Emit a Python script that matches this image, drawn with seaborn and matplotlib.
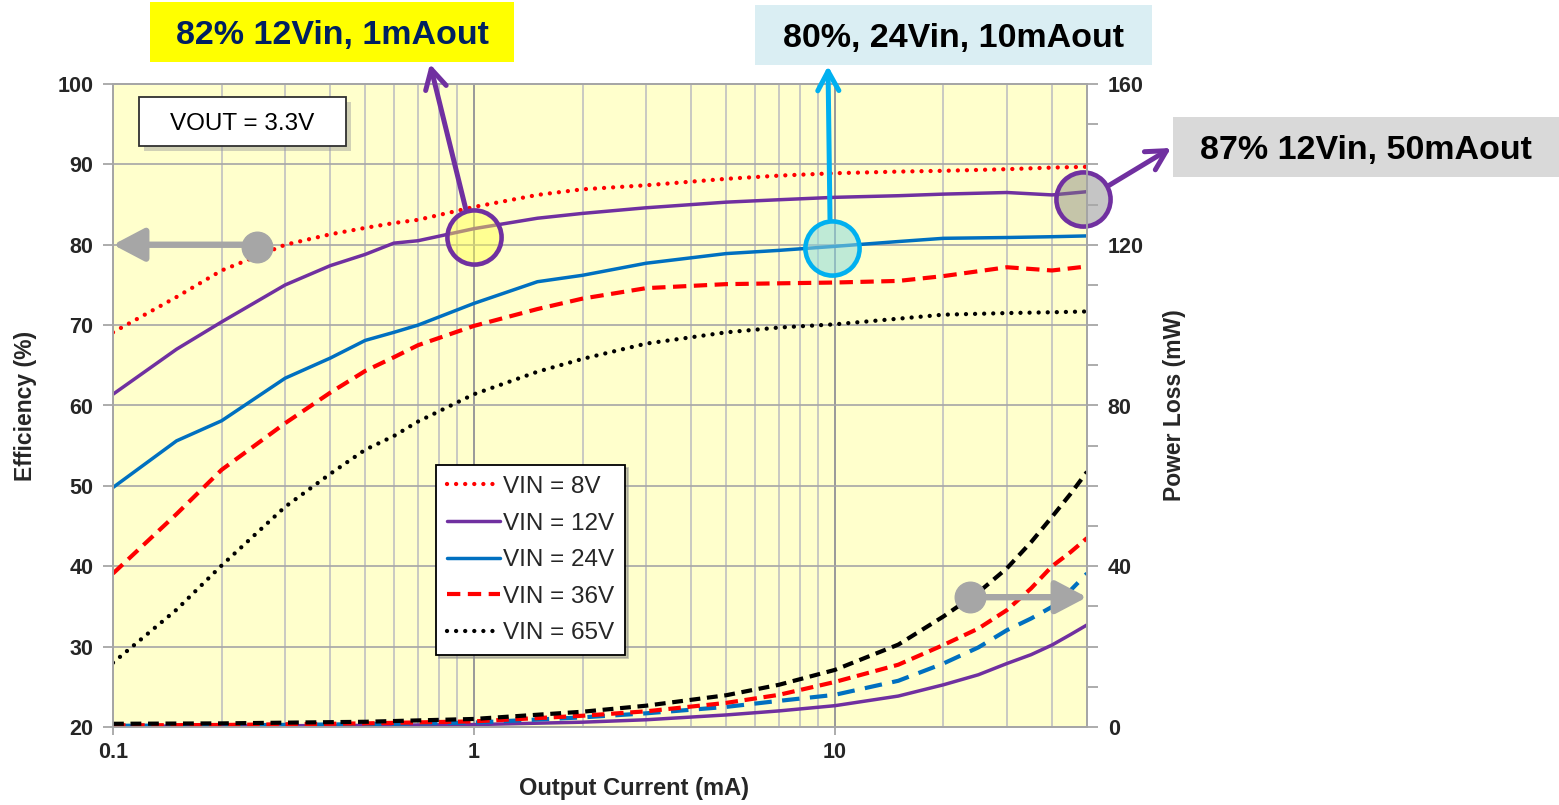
import matplotlib
matplotlib.use("Agg")
import matplotlib.pyplot as plt
import matplotlib.patches as mpatches
from matplotlib.ticker import FixedLocator, FixedFormatter, NullFormatter, MultipleLocator, LogLocator
import numpy as np
import pandas as pd
import seaborn as sns

# ---------------- data ----------------
current_ma = [0.1, 0.15, 0.2, 0.3, 0.4, 0.5, 0.6, 0.7, 1, 1.5, 2, 3, 5, 7, 10, 15, 20, 30, 40, 50]
eff_vin8 = [69.1, 73.5, 76.8, 80.0, 81.3, 82.1, 82.7, 83.1, 84.7, 86.2, 86.9, 87.4, 88.2, 88.6, 88.9, 89.1, 89.2, 89.4, 89.6, 89.7]
eff_vin12 = [61.4, 67.0, 70.4, 75.0, 77.4, 78.8, 80.2, 80.5, 82.0, 83.3, 83.9, 84.6, 85.3, 85.6, 85.9, 86.1, 86.3, 86.5, 86.2, 86.6]
eff_vin24 = [49.8, 55.6, 58.1, 63.4, 65.9, 68.1, 69.1, 70.0, 72.7, 75.4, 76.2, 77.7, 78.9, 79.3, 79.8, 80.4, 80.8, 80.9, 81.0, 81.1]
eff_vin36 = [39.1, 46.5, 52.0, 57.8, 61.6, 64.3, 66.0, 67.5, 69.9, 72.0, 73.3, 74.6, 75.1, 75.2, 75.3, 75.5, 76.1, 77.2, 76.8, 77.3]
eff_vin65 = [28.0, 34.6, 40.1, 47.4, 51.5, 54.5, 56.2, 58.0, 61.4, 64.2, 65.8, 67.7, 69.1, 69.7, 70.1, 70.8, 71.3, 71.5, 71.6, 71.7]

current_loss_ma = [0.1, 0.2, 0.5, 1, 2, 3, 5, 7, 10, 15, 20, 25, 30, 35, 40, 45, 50]
loss_vin12 = [0.2, 0.25, 0.4, 0.6, 1.2, 1.8, 3.0, 4.0, 5.3, 7.7, 10.5, 13.0, 15.8, 18.0, 20.4, 23.0, 25.4]
loss_vin24 = [0.3, 0.4, 0.7, 1.1, 2.4, 3.4, 5.0, 6.5, 8.0, 11.5, 15.8, 19.8, 24.1, 27.0, 29.9, 34.0, 38.2]
loss_vin36 = [0.4, 0.5, 0.9, 1.4, 2.8, 3.9, 6.0, 8.0, 11.2, 15.5, 20.4, 24.5, 29.1, 34.5, 40.0, 43.5, 47.0]
loss_vin65 = [0.8, 0.9, 1.3, 2.0, 3.8, 5.3, 7.9, 10.5, 14.2, 20.5, 27.5, 33.5, 39.5, 46.0, 52.3, 58.0, 63.5]

series_labels = ["VIN = 8V", "VIN = 12V", "VIN = 24V", "VIN = 36V", "VIN = 65V"]
x_tick_values = [0.1, 1, 10]
x_tick_labels = ["0.1", "1", "10"]

# ---------------- style ----------------
sns.set_style("white")
plt.rcParams['font.family'] = ['Liberation Sans', 'DejaVu Sans']

W, H = 1559, 805
PURPLE = '#7030A0'
BLUE = '#0070C0'
RED = '#FF0000'
CYAN = '#00B0F0'
GRAY = '#A6A6A6'

fig = plt.figure(figsize=(W / 100, H / 100), dpi=100)
ax = fig.add_axes([113 / W, (H - 727) / H, (1087 - 113) / W, (727 - 84) / H])
ax.set_facecolor('#FFFFCC')
ax.set_xscale('log')
ax2 = ax.twinx()

# ---------------- efficiency curves ----------------
eff_series = [eff_vin8, eff_vin12, eff_vin24, eff_vin36, eff_vin65]
eff_styles = [
    dict(color=RED, linewidth=3.1, linestyle=(0, (0.01, 2.1)), dash_capstyle='round'),
    dict(color=PURPLE, linewidth=2.5, linestyle='-'),
    dict(color=BLUE, linewidth=2.5, linestyle='-'),
    dict(color=RED, linewidth=3.0, linestyle=(0, (3.2, 1.8))),
    dict(color='black', linewidth=3.1, linestyle=(0, (0.01, 2.1)), dash_capstyle='round'),
]
for lab, vals, st in zip(series_labels, eff_series, eff_styles):
    sns.lineplot(x=current_ma, y=vals, ax=ax, label=lab, **st)

# ---------------- power loss curves ----------------
loss_series = [loss_vin12, loss_vin24, loss_vin36, loss_vin65]
loss_styles = [
    dict(color=PURPLE, linewidth=2.5, linestyle='-'),
    dict(color=BLUE, linewidth=3.0, linestyle=(0, (4.2, 2.5))),
    dict(color=RED, linewidth=3.0, linestyle=(0, (3.0, 1.6))),
    dict(color='black', linewidth=3.0, linestyle=(0, (2.6, 1.6))),
]
for vals, st in zip(loss_series, loss_styles):
    sns.lineplot(x=current_loss_ma, y=vals, ax=ax2, legend=False, **st)

# ---------------- axes ----------------
ax.set_xlim(0.1, 50)
ax.set_ylim(20, 100)
ax.yaxis.set_major_locator(MultipleLocator(10))
ax.xaxis.set_major_locator(FixedLocator(x_tick_values))
ax.xaxis.set_major_formatter(FixedFormatter(x_tick_labels))
ax.xaxis.set_minor_locator(LogLocator(base=10, subs=np.arange(2, 10)))
ax.xaxis.set_minor_formatter(NullFormatter())
ax2.set_ylim(0, 160)
ax2.yaxis.set_major_locator(MultipleLocator(40))
ax2.yaxis.set_minor_locator(MultipleLocator(10))

ax.set_axisbelow(True)
ax.grid(True, which='major', axis='y', color='#A6A6A6', linewidth=1.2)
ax.grid(True, which='major', axis='x', color='#999999', linewidth=1.4)
ax.grid(True, which='minor', axis='x', color='#C0C0C0', linewidth=1.2)

ax.tick_params(axis='y', which='major', direction='out', length=7, width=1.3,
               color=GRAY, pad=7, labelsize=15.5, left=True)
ax.tick_params(axis='x', which='major', direction='out', length=6, width=1.3,
               color=GRAY, pad=5, labelsize=15.5, bottom=True)
ax.tick_params(axis='x', which='minor', length=0)
ax2.tick_params(axis='y', which='both', direction='out', length=8, width=1.3,
                color=GRAY, pad=7, labelsize=15.5, right=True)

for s in list(ax.spines.values()) + list(ax2.spines.values()):
    s.set_color(GRAY)
    s.set_linewidth(1.3)

for lab in ax.get_xticklabels() + ax.get_yticklabels() + ax2.get_yticklabels():
    lab.set_fontweight('bold')

ax.set_xlabel('Output Current (mA)', fontsize=17, fontweight='bold')
ax.xaxis.set_label_coords((634 - 113) / 974, -0.077)
ax.set_ylabel('Efficiency (%)', fontsize=16.5, fontweight='bold', labelpad=15)
ax2.set_ylabel('Power Loss (mW)', fontsize=16.5, fontweight='bold', labelpad=14, rotation=90)

# ---------------- legend ----------------
handles, labels = ax.get_legend_handles_labels()
if ax.get_legend() is not None:
    ax.get_legend().remove()
leg = ax2.legend(handles, labels, loc='upper left', bbox_to_anchor=(436 / W, 1 - 465 / H),
                 bbox_transform=fig.transFigure, borderaxespad=0, fontsize=17.5,
                 frameon=True, fancybox=False, edgecolor='black', framealpha=1,
                 handlelength=2.2, handletextpad=0.12, labelspacing=0.6, borderpad=0.45,
                 shadow={'color': '0.55', 'alpha': 0.5})
leg.get_frame().set_linewidth(1.3)
leg.set_zorder(10)

# ---------------- highlight circles & arrows ----------------
ax.plot([1.0], [81.0], marker='o', ms=39, mfc=(1, 1, 0.3, 0.45), mec=PURPLE, mew=3.3,
        ls='none', clip_on=False, zorder=5)
ax.plot([9.8], [79.6], marker='o', ms=39, mfc=(0.55, 0.85, 0.88, 0.55), mec=CYAN, mew=3.3,
        ls='none', clip_on=False, zorder=5)
ax.plot([48.7], [85.7], marker='o', ms=39, mfc=(0.5, 0.5, 0.5, 0.45), mec=PURPLE, mew=3.3,
        ls='none', clip_on=False, zorder=5)

# left axis pointer
ax.annotate('', xy=(0.1, 80), xytext=(0.25, 80), annotation_clip=False, zorder=5,
            arrowprops=dict(arrowstyle='-|>,head_length=0.95,head_width=0.5', color=GRAY,
                            lw=4.6, shrinkA=0, shrinkB=0, mutation_scale=20))
ax.plot([0.25], [79.7], marker='o', ms=22, color=GRAY, ls='none', zorder=6, clip_on=False)
# right axis pointer
ax2.annotate('', xy=(50, 32.3), xytext=(23.7, 32.3), annotation_clip=False, zorder=6,
             arrowprops=dict(arrowstyle='-|>,head_length=0.95,head_width=0.5', color=GRAY,
                             lw=4.6, shrinkA=0, shrinkB=0, mutation_scale=20))
ax2.plot([23.7], [32.3], marker='o', ms=22, color=GRAY, ls='none', zorder=7, clip_on=False)


def fpx(x, y):
    return (x, H - y)


def callout_arrow(tip, start, color):
    ax2.annotate('', xy=fpx(*tip), xycoords='figure pixels', xytext=fpx(*start),
                 textcoords='figure pixels', annotation_clip=False, zorder=8,
                 arrowprops=dict(arrowstyle='->,head_length=0.7,head_width=0.38', color=color,
                                 lw=3.6, shrinkA=0, shrinkB=0, mutation_scale=20,
                                 capstyle='round', joinstyle='round'))


callout_arrow((430, 64), (466, 210), PURPLE)
callout_arrow((828, 66), (830, 219), CYAN)
callout_arrow((1171, 148), (1108, 186), PURPLE)


def box(x0, y0, x1, y1, fc, text, color, fs=24.5, weight='bold', ec='none', lw=0):
    rect = mpatches.Rectangle((x0 / W, 1 - y1 / H), (x1 - x0) / W, (y1 - y0) / H,
                              transform=fig.transFigure, facecolor=fc, edgecolor=ec,
                              linewidth=lw, zorder=5)
    fig.add_artist(rect)
    cy = (y0 + y1) / 2 + 0.36 * fs * 100 / 72
    fig.text((x0 + x1) / 2 / W, 1 - cy / H, text, ha='center', va='baseline',
             fontsize=fs, fontweight=weight, color=color, zorder=6)


box(150, 2, 514, 62, '#FFFF00', '82% 12Vin, 1mAout', '#002060')
box(755, 5, 1152, 65, '#DAEEF3', '80%, 24Vin, 10mAout', 'black')
box(1173, 117, 1559, 177, '#D9D9D9', '87% 12Vin, 50mAout', 'black')

# VOUT box with shadow
shadow = mpatches.Rectangle(((139 + 5) / W, 1 - (146 + 5) / H), 207 / W, 49 / H,
                            transform=fig.transFigure, facecolor='0.6', alpha=0.45,
                            edgecolor='none', zorder=4)
fig.add_artist(shadow)
box(139, 97, 346, 146, 'white', 'VOUT = 3.3V', 'black', fs=17.5, weight='normal',
    ec='#303030', lw=1.3)

fig.savefig('out.png', dpi=100)
